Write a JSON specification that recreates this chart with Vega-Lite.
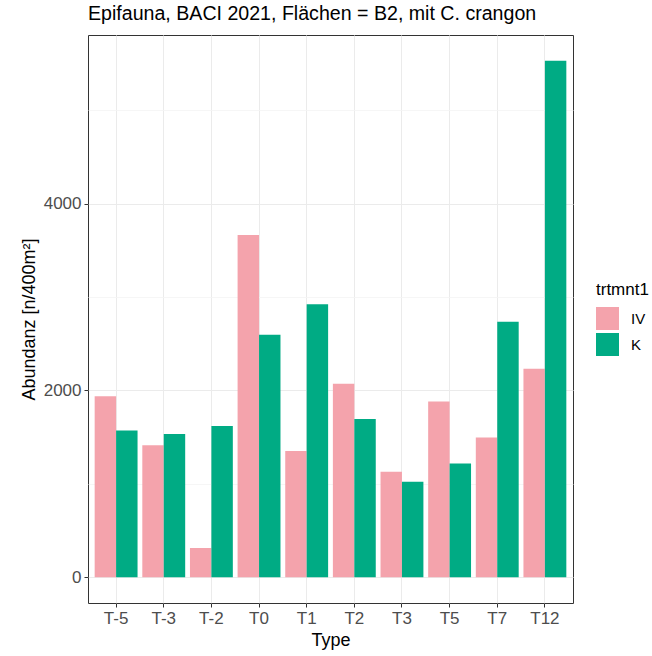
{
  "$schema": "https://vega.github.io/schema/vega-lite/v6.json",
  "width": 485,
  "height": 568,
  "autosize": {"type": "none"},
  "padding": {"left": 88, "top": 35, "right": 79, "bottom": 53},
  "background": "white",
  "title": {
    "text": "Epifauna, BACI 2021, Flächen = B2, mit C. crangon",
    "anchor": "start",
    "frame": "group",
    "dx": 0,
    "offset": 10,
    "font": "Liberation Sans",
    "fontSize": 19.6,
    "fontWeight": "normal",
    "color": "black"
  },
  "config": {
    "font": "Liberation Sans",
    "view": {"stroke": "#333333", "strokeWidth": 1}
  },
  "data": {
    "values": [
      {"Type": "T-5", "trtmnt1": "IV", "value": 1939},
      {"Type": "T-5", "trtmnt1": "K", "value": 1572},
      {"Type": "T-3", "trtmnt1": "IV", "value": 1412},
      {"Type": "T-3", "trtmnt1": "K", "value": 1533},
      {"Type": "T-2", "trtmnt1": "IV", "value": 313},
      {"Type": "T-2", "trtmnt1": "K", "value": 1618},
      {"Type": "T0", "trtmnt1": "IV", "value": 3665},
      {"Type": "T0", "trtmnt1": "K", "value": 2596},
      {"Type": "T1", "trtmnt1": "IV", "value": 1351},
      {"Type": "T1", "trtmnt1": "K", "value": 2923},
      {"Type": "T2", "trtmnt1": "IV", "value": 2072},
      {"Type": "T2", "trtmnt1": "K", "value": 1693},
      {"Type": "T3", "trtmnt1": "IV", "value": 1130},
      {"Type": "T3", "trtmnt1": "K", "value": 1023},
      {"Type": "T5", "trtmnt1": "IV", "value": 1882},
      {"Type": "T5", "trtmnt1": "K", "value": 1219},
      {"Type": "T7", "trtmnt1": "IV", "value": 1497},
      {"Type": "T7", "trtmnt1": "K", "value": 2735},
      {"Type": "T12", "trtmnt1": "IV", "value": 2232},
      {"Type": "T12", "trtmnt1": "K", "value": 5529}
    ]
  },
  "mark": {"type": "bar"},
  "encoding": {
    "x": {
      "field": "Type",
      "type": "nominal",
      "sort": ["T-5", "T-3", "T-2", "T0", "T1", "T2", "T3", "T5", "T7", "T12"],
      "scale": {"paddingInner": 0.1, "paddingOuter": 0.14},
      "axis": {
        "title": "Type",
        "titleFontSize": 18,
        "titleFontWeight": "normal",
        "titleColor": "black",
        "titlePadding": 5,
        "labelAngle": 0,
        "labelFontSize": 17,
        "labelColor": "#4D4D4D",
        "labelPadding": 3,
        "bandPosition": 0.5,
        "grid": true,
        "gridColor": "#EBEBEB",
        "gridWidth": 1,
        "tickColor": "#333333",
        "tickSize": 4,
        "domain": false
      }
    },
    "xOffset": {"field": "trtmnt1", "type": "nominal", "sort": ["IV", "K"]},
    "y": {
      "field": "value",
      "type": "quantitative",
      "scale": {"domain": [-276, 5806], "nice": false, "zero": false},
      "axis": {
        "title": "Abundanz [n/400m²]",
        "titleFontSize": 18,
        "titleFontWeight": "normal",
        "titleColor": "black",
        "titlePadding": 5,
        "values": [0, 1000, 2000, 3000, 4000, 5000],
        "labelExpr": "datum.value % 2000 === 0 ? datum.label : ''",
        "labelFontSize": 17,
        "labelColor": "#4D4D4D",
        "labelPadding": 3,
        "format": "d",
        "grid": true,
        "gridColor": {"condition": {"test": "datum.value % 2000 === 0", "value": "#EBEBEB"}, "value": "#F4F4F4"},
        "gridWidth": {"condition": {"test": "datum.value % 2000 === 0", "value": 1}, "value": 0.8},
        "tickColor": "#333333",
        "tickOpacity": {"condition": {"test": "datum.value % 2000 === 0", "value": 1}, "value": 0},
        "tickSize": 4,
        "domain": false
      }
    },
    "color": {
      "field": "trtmnt1",
      "type": "nominal",
      "scale": {"domain": ["IV", "K"], "range": ["#F4A3AC", "#00AB84"]},
      "legend": {
        "title": "trtmnt1",
        "orient": "none",
        "legendX": 508,
        "legendY": 247,
        "titleFontSize": 17,
        "titleFontWeight": "normal",
        "titleColor": "black",
        "titlePadding": 8,
        "labelFontSize": 15,
        "labelColor": "black",
        "labelOffset": 12,
        "symbolType": "square",
        "symbolSize": 529,
        "symbolStrokeWidth": 0,
        "rowPadding": 3
      }
    }
  }
}
